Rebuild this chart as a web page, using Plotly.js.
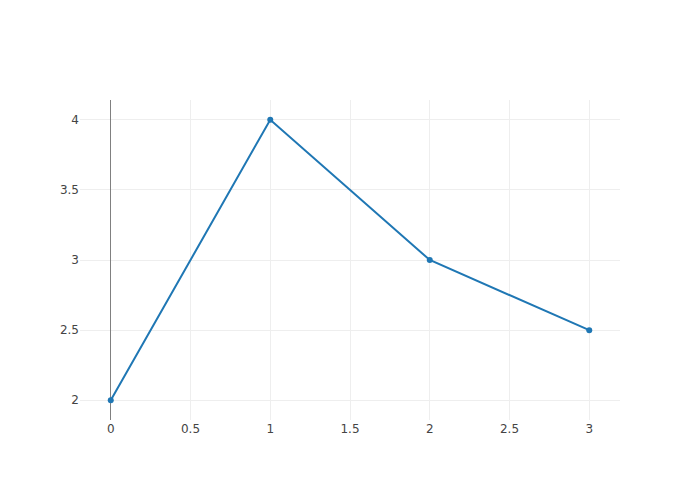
<!DOCTYPE html>
<html>
<head>
<meta charset="utf-8">
<script src="https://cdn.plot.ly/plotly-3.0.1.min.js"></script>
<style>html,body{margin:0;padding:0;}</style>
</head>
<body>
<div id="chart" style="width:700px;height:500px;"></div>
<script>
var xValues = [0, 1, 2, 3];
var yValues = [2, 4, 3, 2.5];
Plotly.newPlot('chart', [{
  x: xValues,
  y: yValues,
  type: 'scatter',
  mode: 'lines+markers'
}], {
  width: 700,
  height: 500,
  font: {family: 'DejaVu Sans, Verdana, sans-serif', color: '#444'},
  xaxis: {zerolinecolor: '#808080', zerolinewidth: 1},
  yaxis: {zerolinecolor: '#808080', zerolinewidth: 1}
}, {displayModeBar: false});
</script>
</body>
</html>
